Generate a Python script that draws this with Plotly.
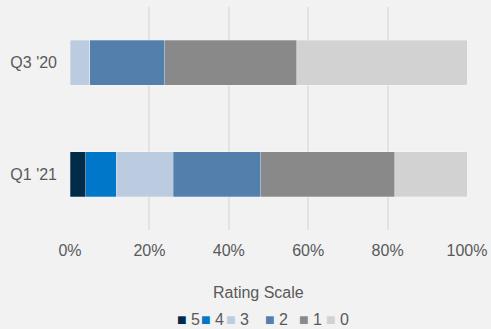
import plotly.graph_objects as go

categories = ["Q3 '20", "Q1 '21"]
ratings = ["5", "4", "3", "2", "1", "0"]
values_5 = [0.0, 4.0]
values_4 = [0.0, 7.6]
values_3 = [5.0, 14.4]
values_2 = [18.9, 22.0]
values_1 = [33.2, 33.8]
values_0 = [42.9, 18.2]
series = [values_5, values_4, values_3, values_2, values_1, values_0]
colors = ["#002B49", "#0077C8", "#BBCCE0", "#527FAB", "#898989", "#D2D2D2"]
tick_values = [0, 20, 40, 60, 80, 100]
tick_labels = ["0%", "20%", "40%", "60%", "80%", "100%"]
legend_title = "Rating Scale"

W, H = 491, 329
ML, MR, MT, MB = 70, 24, 7, 99
PW, PH = W - ML - MR, H - MT - MB
TXT = "#595959"
FONT = "Liberation Sans, Arial, sans-serif"

fig = go.Figure()
for name, vals, col in zip(ratings, series, colors):
    fig.add_trace(go.Bar(
        y=categories, x=vals, name=name, orientation="h",
        marker=dict(color=col, line=dict(color="rgba(255,255,255,0.35)", width=0.75)),
        width=0.4, showlegend=False,
    ))

def px_to_paper_x(px):
    return (px - ML) / PW

def px_to_paper_y(py):
    return (H - MB - py) / PH

annotations = [dict(
    text=legend_title, xref="paper", yref="paper",
    x=px_to_paper_x(258), y=px_to_paper_y(292), xanchor="center", yanchor="middle",
    showarrow=False, font=dict(size=16, color=TXT, family=FONT),
)]
legend_px = [175, 199, 224, 263, 297, 324]
for name, col, lx in zip(ratings, colors, legend_px):
    annotations.append(dict(
        text=f'<span style="color:{col}">■</span> {name}', xref="paper", yref="paper",
        x=px_to_paper_x(lx), y=px_to_paper_y(319), xanchor="left", yanchor="middle",
        showarrow=False, font=dict(size=16, color=TXT, family=FONT),
    ))

fig.update_layout(
    width=W, height=H, barmode="stack",
    margin=dict(l=ML, r=MR, t=MT, b=MB, pad=0),
    paper_bgcolor="#F2F2F2", plot_bgcolor="#F2F2F2",
    font=dict(family=FONT, size=16, color=TXT),
    annotations=annotations,
    bargap=0.6,
)
fig.update_xaxes(
    range=[0, 100], tickvals=tick_values, ticktext=tick_labels,
    showgrid=True, gridcolor="#E2E2E2", gridwidth=1.5,
    zeroline=False, showline=False, ticks="", ticklabelstandoff=9,
    tickfont=dict(size=16, color=TXT), automargin=False,
)
fig.update_yaxes(
    autorange="reversed", showgrid=False, zeroline=False, showline=False,
    ticks="", ticklabelstandoff=12, tickfont=dict(size=16, color=TXT),
    automargin=False,
)
fig.write_html("out.html")
